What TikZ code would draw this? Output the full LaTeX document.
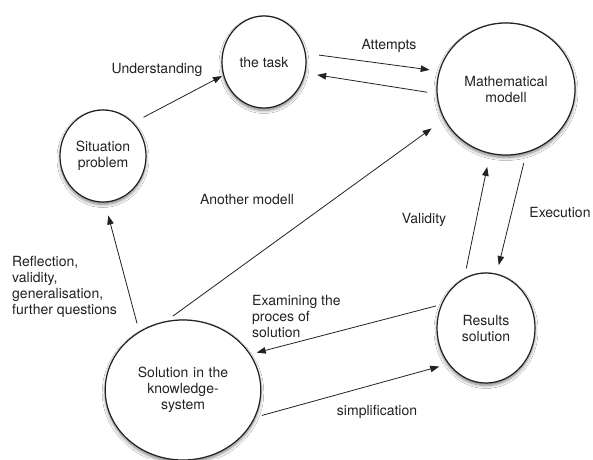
\documentclass[tikz,border=0pt]{standalone}
\usepackage{fontspec}
\setmainfont{TeX Gyre Heros}
\usetikzlibrary{shapes.geometric,arrows.meta,shadows.blur}
\definecolor{ink}{HTML}{222222}
\tikzset{
  blob/.style={ellipse, draw=ink, line width=1.2pt, fill=white, inner sep=0pt, outer sep=0pt,
    align=center, text=ink,
    blur shadow={shadow xshift=0pt, shadow yshift=-2.5pt, shadow blur radius=3pt, shadow blur steps=6, shadow opacity=50}},
  lbl/.style={inner sep=0pt, text=ink, align=center},
  link/.style={draw=ink, line width=0.8pt, -{Triangle[length=9pt,width=6.5pt]}},
}
\begin{document}
\begin{tikzpicture}[x=1pt,y=-1pt,font=\fontsize{14}{16}\selectfont]
\fill[white] (0,0) rectangle (593,459);
\path[use as bounding box] (0,0) rectangle (593,459);
\begin{scope}
\clip (0,0) rectangle (593,459);
\node[blob, minimum width=86pt, minimum height=92pt] (sit) at (103,156) {Situation\\problem};
\node[blob, minimum width=84pt, minimum height=92pt] (task) at (264,62) {the task};
\node[blob, minimum width=138pt, minimum height=132pt] (math) at (506,89) {Mathematical\\modell};
\node[blob, minimum width=98pt, minimum height=110pt] (res) at (486,328) {Results\\solution};
\node[blob, minimum width=132pt, minimum height=140pt, text width=110pt] (know) at (183,390) {Solution in the\\knowledge-\\system};
\end{scope}

\draw[link, shorten <=12pt, shorten >=2pt] (sit.48) -- (task.198);
\draw[link, shorten <=14pt, shorten >=10pt] (task.12) -- (math.165);
\draw[link, shorten <=10pt, shorten >=12.5pt] (math.184) -- (task.345);
\draw[link, shorten <=10pt, shorten >=16pt] (know.105) -- (math.206);
\draw[link, shorten <=9pt, shorten >=14pt] (know.127) -- (sit.272);
\draw[link, shorten <=10.5pt, shorten >=14pt] (res.114) -- (math.256);
\draw[link, shorten <=11.5pt, shorten >=9.5pt] (math.288) -- (res.79);
\draw[link, shorten <=6pt, shorten >=7pt] (res.152) -- (know.28);
\draw[link, shorten <=7.5pt, shorten >=10pt] (know.339) -- (res.224);

\node[lbl] (lunder) at (157,70) {Understanding};
\node[lbl] (lattempt) at (389,46) {Attempts};
\node[lbl] (lanother) at (247,199) {Another modell};
\node[lbl] (lvalid) at (424,220) {Validity};
\node[lbl] (lexec) at (560,212) {Execution};
\node[lbl, anchor=west, align=left] (lrefl) at (12,287) {Reflection,\\validity,\\generalisation,\\further questions};
\node[lbl, anchor=west, align=left] (lexam) at (252,316) {Examining the\\proces of\\solution};
\node[lbl] (lsimp) at (377,412) {simplification};
\end{tikzpicture}
\end{document}
